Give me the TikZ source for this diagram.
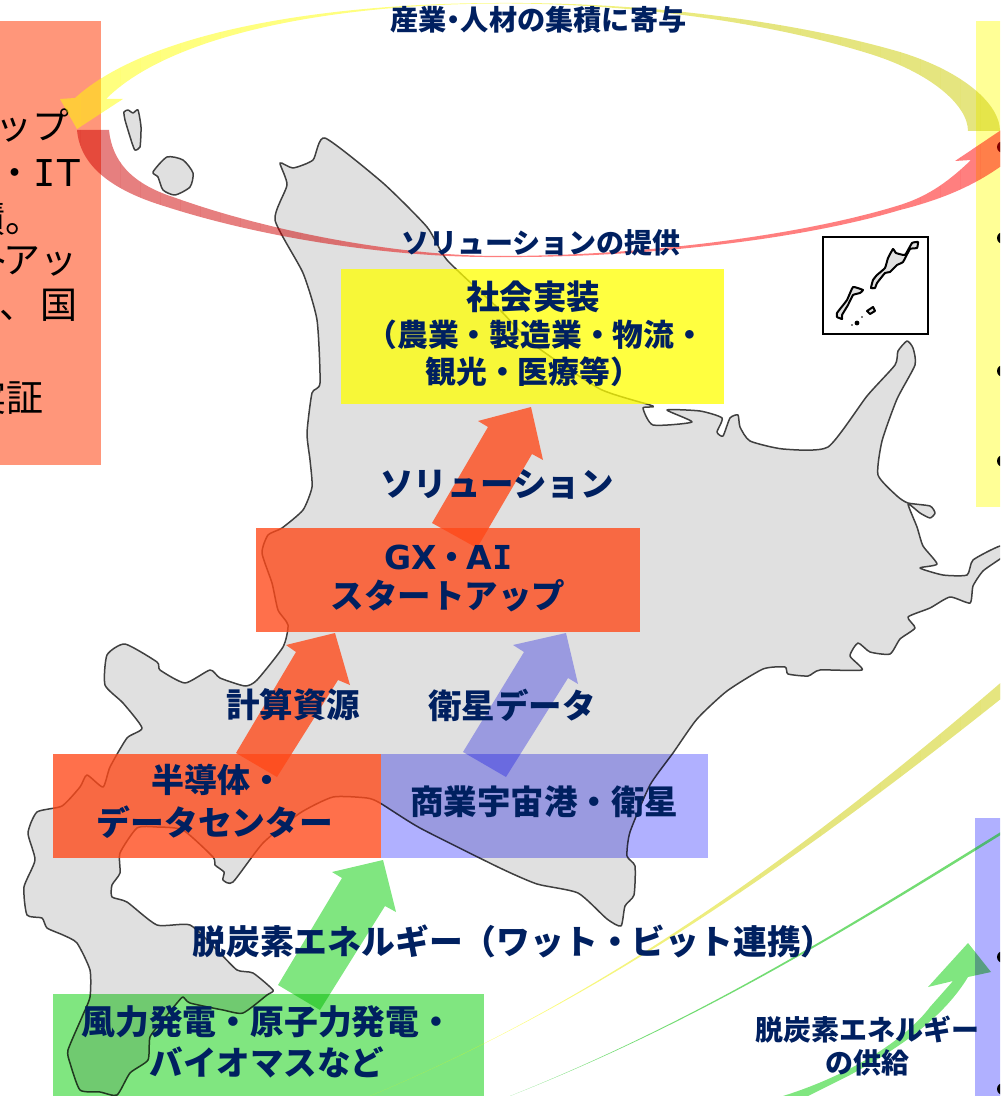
\documentclass[tikz,border=0pt]{standalone}
\usepackage{fontspec}
\setmainfont{Noto Sans CJK JP}
\newfontfamily\latb{DejaVu Sans}
\newfontfamily\latm{DejaVu Sans Mono}
\definecolor{navy}{RGB}{0,32,96}
\definecolor{mapgray}{RGB}{224,224,224}
\definecolor{redbox}{RGB}{255,72,24}
\definecolor{bluebox}{RGB}{176,176,255}
\definecolor{greenbox}{RGB}{128,230,128}
\definecolor{salmon}{RGB}{255,150,122}
\definecolor{palepanel}{RGB}{255,255,150}
\definecolor{yel}{RGB}{255,255,0}
\definecolor{olive}{RGB}{204,204,0}
\definecolor{darkred}{RGB}{205,0,0}
\definecolor{brightred}{RGB}{255,0,0}
\newcommand{\fz}[1]{\fontsize{#1}{#1}\selectfont}
\newcommand{\hokkaido}{(325,138)(383,183)(427,227)(447,260)(500,310)(533,344)(600,389)(653,406)(643,408)(653,425)(692,422)(667,410)(700,411)(722,418)(717,432)(723,436)(730,418)(738,415)(740,427)(750,441)(783,449)(828,447)(867,396)(895,365)(898,351)(907,341)(913,348)(915,365)(897,399)(882,441)(878,475)(897,496)(908,503)(930,506)(935,513)(930,518)(920,513)(908,504)(917,527)(923,546)(937,564)(920,568)(943,575)(967,575)(973,560)(1000,546)(1012,550)(1000,559)(983,571)(973,586)(970,603)(950,597)(930,608)(908,617)(915,628)(900,639)(890,654)(870,652)(858,643)(850,656)(862,670)(820,670)(808,676)(788,674)(785,667)(763,669)(727,691)(697,719)(673,753)(650,785)(630,832)(627,856)(635,866)(634,895)(625,906)(621,926)(607,919)(578,893)(537,884)(500,868)(420,828)(380,803)(367,798)(333,797)(300,813)(263,843)(233,882)(223,880)(224,872)(215,865)(213,857)(183,830)(157,827)(137,828)(120,853)(120,873)(112,885)(112,897)(127,902)(157,925)(190,925)(217,950)(237,970)(253,973)(273,990)(267,995)(243,1013)(223,1010)(190,1003)(183,997)(177,1003)(163,1020)(150,1037)(148,1060)(130,1073)(117,1095)(100,1092)(80,1090)(70,1063)(68,1050)(82,1017)(90,997)(90,970)(77,943)(63,935)(47,928)(42,918)(27,915)(24,887)(35,860)(28,833)(37,812)(62,806)(80,787)(87,775)(103,787)(110,767)(127,738)(142,728)(123,703)(105,685)(107,655)(125,644)(157,662)(160,670)(185,683)(210,670)(220,678)(245,686)(257,680)(283,647)(288,625)(278,610)(272,583)(262,553)(268,535)(282,528)(303,510)(312,487)(310,460)(307,433)(312,393)(320,383)(317,320)(303,273)(275,220)(287,185)(280,163)(293,168)(313,160)}
% #1 path, #2 left colour, #3 right colour, #4 x where mixing starts, #5 x where it ends
\newcommand{\gradfill}[5]{%
  \foreach \i in {0,...,50}{%
    \pgfmathsetmacro{\p}{max(0,min(100,(\i*20+10-#4)/(#5-#4)*100))}%
    \colorlet{bandcol}{#3!\p!#2}%
    \begin{scope}
      \clip ({\i*20},-10) rectangle ({\i*20+20},1110);
      \fill[bandcol, fill opacity=.5] #1;
    \end{scope}
  }%
}
\tikzset{
  mapshape/.style={fill=mapgray, draw=black!75, line width=.75pt, line join=round},
  isle/.style={fill=mapgray, draw=black, line width=1pt, line join=round},
  redrect/.style={fill=redbox, fill opacity=.78},
  yelrect/.style={fill=yel, fill opacity=.75},
  mulrect/.style={blend mode=multiply},
  redarr/.style={fill=redbox, fill opacity=.78},
  lab/.style={text=navy, inner sep=0pt, font=\bfseries},
  ptext/.style={text=black, inner sep=0pt, anchor=east, font=\fz{18.5}},
}
\begin{document}
\begin{tikzpicture}[x=.5pt,y=-.5pt]
\useasboundingbox (0,0) rectangle (1000,1096);
\clip (0,0) rectangle (1000,1096);
% panels
\fill[salmon] (0,21) rectangle (101,465);
\fill[palepanel] (976,21) rectangle (1010,507);
\fill[bluebox] (975,818) rectangle (1010,1110);
\node[ptext] (p1) at (70,126) {スタートアップ};
\node[ptext] (p2) at (81,172) {産業\kern-.1em・\latm I\kern.05em\latb T};
\node[ptext] (p3) at (43,218) {集積。};
\node[ptext] (p4) at (78,260) {スタ\,ト\kern-.2emアッ};
\node[ptext] (p5) at (78,305) {い、\kern.12em国};
\node[ptext] (p6) at (44,397) {実証};
\foreach \yy in {147,238,371,461,957,1089} \fill (1003,\yy) circle (6);
% map
\draw[mapshape] plot[smooth cycle, tension=.35] coordinates {\hokkaido};
\draw[mapshape] plot[smooth cycle, tension=.35] coordinates {(124,112)(128,110)(133,113)(138,110)(141,127)(140,147)(135,150)(132,143)(125,120)};
\draw[mapshape] plot[smooth cycle, tension=.4] coordinates {(153,172)(167,157)(183,160)(193,173)(190,187)(175,195)(163,190)(158,177)};
% inset
\draw[fill=white, draw=black, line width=1pt] (823,237) rectangle (928,334);
\draw[isle] plot[smooth cycle, tension=.2] coordinates {(871,288)(873,280)(877,275)(885,268)(888,258)(893,249)(896,253)(905,255)(912,243)(918,242)(917,248)(910,249)(903,262)(897,265)(890,272)(885,273)(877,283)(875,288)};
\draw[isle] plot[smooth cycle, tension=.2] coordinates {(837,313)(840,309)(847,300)(853,287)(863,290)(860,293)(853,295)(848,305)(842,315)(842,319)(837,317)};
\draw[isle] (867,311) -- (873,307) -- (875,311) -- (870,314) -- cycle;
\fill (857,323) circle (2.4) (862,317) circle (.9) (852,325) circle (.9);
% boxes
\fill[yelrect] (341,269) rectangle (724,404);
\fill[redrect] (256,528) rectangle (640,632);
\fill[redrect] (53,754) rectangle (381,858);
\fill[bluebox, mulrect] (381,754) rectangle (708,858);
\fill[greenbox, mulrect] (53,994) rectangle (484,1110);
% straight arrows
\fill[redarr] (432,523) -- (488,427) -- (478,421) -- (531,407) -- (543,460) -- (532,454) -- (477,548) -- cycle;
\fill[redarr] (236,753) -- (296,652) -- (286,645) -- (335,633) -- (350,685) -- (338,680) -- (277,777) -- cycle;
\fill[bluebox, mulrect] (463,752) -- (524,652) -- (513,645) -- (566,633) -- (578,684) -- (568,678) -- (506,777) -- cycle;
\fill[greenbox, mulrect] (278,985) -- (342,878) -- (332,872) -- (383,860) -- (396,912) -- (385,906) -- (320,1010) -- cycle;
% yellow arc on top
\gradfill{(968,131) .. controls (968,105) and (930,72) .. (867,53) .. controls (760,20) and (620,3) .. (500,3.5)
 .. controls (330,4) and (170,35) .. (106,99) -- (123,99) -- (77,129) -- (60,99) -- (75,98)
 .. controls (150,30) and (330,3) .. (500,3) .. controls (640,2) and (790,20) .. (900,52)
 .. controls (965,72) and (1000,105) .. (1000,131) -- cycle}{yel}{olive}{450}{750}
% red arc
\gradfill{(77,130) .. controls (80,165) and (110,190) .. (167,207) .. controls (270,240) and (400,258) .. (500,257)
 .. controls (640,258) and (800,240) .. (900,210) .. controls (960,195) and (990,175) .. (1012,158)
 -- (1030,150) -- (1016,120) -- (955,161) -- (971,160)
 .. controls (945,185) and (925,197) .. (900,205) .. controls (800,236) and (640,256) .. (500,256)
 .. controls (400,256) and (270,232) .. (173,197) .. controls (130,183) and (112,160) .. (109,130) -- cycle}{darkred}{brightred}{300}{500}
% long thin curves
\gradfill{(370,1096) .. controls (600,1000) and (800,856) .. (1012,673) -- (1012,690)
 .. controls (802,858) and (600,1000) .. cycle}{yel}{olive}{500}{800}
\fill[green!75!black, fill opacity=.55]
 (510,1096) .. controls (700,1020) and (850,925) .. (1012,825) -- (1012,828)
 .. controls (850,928) and (700,1021) .. cycle;
% green curved arrow
\fill[greenbox, mulrect]
 (783,1096) .. controls (850,1075) and (905,1040) .. (930,1007) -- (953,981) -- (928,987) -- (968,943) -- (991,972) -- (968,977)
 .. controls (945,1015) and (905,1045) .. (850,1075) -- (800,1100) -- cycle;
% labels
\node[lab, font=\bfseries\fz{14.1}] (t1) at (538.5,20) {産業\kern-.25em・\kern-.25em人材の集積に寄与};
\node[lab, font=\bfseries\fz{14}] (t2) at (541,243) {ソリューションの提供};
\node[lab, font=\bfseries\fz{16.75}] (t3) at (533,297) {社会実装};
\node[lab, font=\bfseries\fz{15.4}, anchor=west] (t4) at (366,335) {（農業・製造業・物流・};
\node[lab, font=\bfseries\fz{15.4}, anchor=west] (t5) at (425,372) {観光・医療等）};
\node[lab, font=\bfseries\fz{16.75}] (t6) at (497,484) {ソリューション};
\node[lab, font=\bfseries\fz{16.5}] (t7) at (448.5,557) {\latb\bfseries GX\kern-.05em{\rmfamily\bfseries ・}\kern-.05em A\latm I};
\node[lab, font=\bfseries\fz{16.75}] (t8) at (448,596) {スタートアップ};
\node[lab, font=\bfseries\fz{16.75}] (t9) at (293,705) {計算資源};
\node[lab, font=\bfseries\fz{16.75}] (t10) at (512,705) {衛星データ};
\node[lab, font=\bfseries\fz{16.5}] (t11) at (217,780) {半導体・};
\node[lab, font=\bfseries\fz{16.9}] (t12) at (215,822) {データセンター};
\node[lab, font=\bfseries\fz{16.75}] (t13) at (544,802) {商業宇宙港・衛星};
\node[lab, font=\bfseries\fz{16.9}, anchor=west] (t14) at (192,941) {脱炭素エネルギー（ワット・ビット連携）};
\node[lab, font=\bfseries\fz{16.9}, anchor=west] (t15) at (81,1022) {風力発電・原子力発電・};
\node[lab, font=\bfseries\fz{16.75}] (t16) at (267,1062) {バイオマスなど};
\node[lab, font=\bfseries\fz{14}] (t17) at (867,1030) {脱炭素エネルギー};
\node[lab, font=\bfseries\fz{14}] (t18) at (867,1063) {の供給};
\end{tikzpicture}
\end{document}
